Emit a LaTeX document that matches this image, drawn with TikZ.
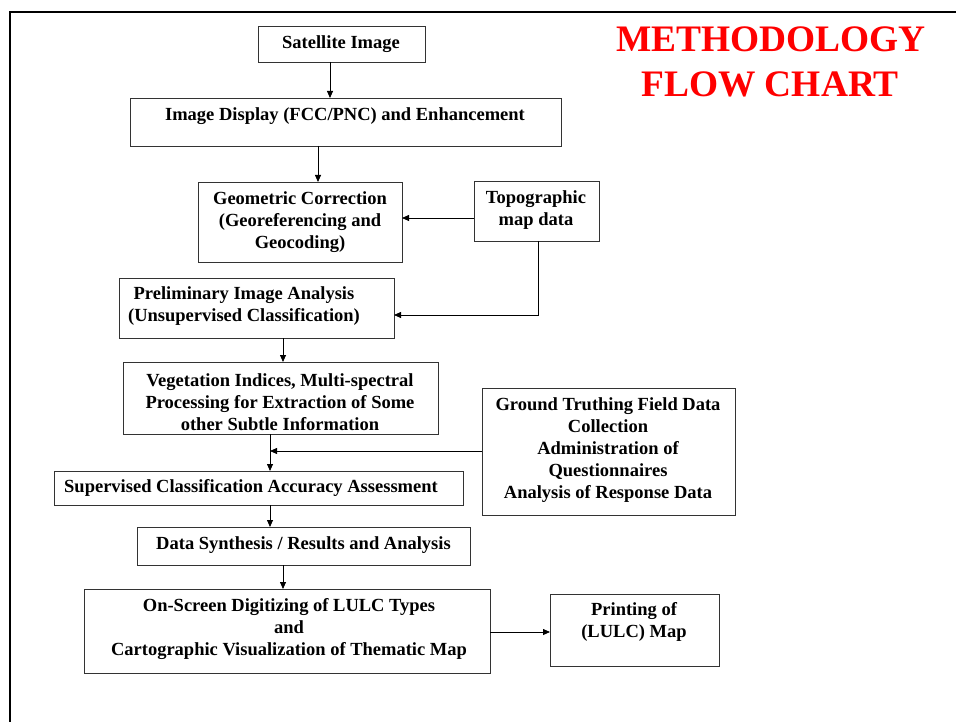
\documentclass[tikz,border=0pt]{standalone}
\usepackage{fontspec}
\setmainfont{Liberation Serif}
\usetikzlibrary{arrows.meta}
\begin{document}
\begin{tikzpicture}[x=1pt,y=-1pt,
  box/.style={draw=black!80,line width=0.9pt,inner sep=0pt,outer sep=0pt},
  txt/.style={align=center,inner sep=0pt,font=\fontsize{18.5}{22}\selectfont\bfseries},
  arr/.style={draw=black,line width=0.8pt,-{Triangle[length=7pt,width=6pt]}},
  ttl/.style={text=red,inner sep=0pt,anchor=base,font=\fontsize{37.4}{44}\selectfont\bfseries}]
\useasboundingbox (0,0) rectangle (956,722);
% frame
\draw[line width=2.6pt] (10,722) -- (10,12) -- (960,12);
% title
\node[ttl] (t1) at (771,52) {METHODOLOGY};
\node[ttl] (t2) at (770,97) {FLOW CHART};
% boxes
\node[box,minimum width=167pt,minimum height=36pt] (sat) at (341.5,44) {};
\node[box,minimum width=431pt,minimum height=48pt] (disp) at (345.5,122) {};
\node[box,minimum width=204pt,minimum height=80pt] (geo) at (300,222) {};
\node[box,minimum width=125pt,minimum height=60pt] (topo) at (536.5,211) {};
\node[box,minimum width=275pt,minimum height=60pt] (prel) at (256.5,308) {};
\node[box,minimum width=315pt,minimum height=72pt] (veg) at (280.5,398) {};
\node[box,minimum width=409pt,minimum height=34pt] (sup) at (258.5,488) {};
\node[box,minimum width=333pt,minimum height=38pt] (syn) at (303.5,546) {};
\node[box,minimum width=406pt,minimum height=84pt] (onscr) at (287,631) {};
\node[box,minimum width=253pt,minimum height=127pt] (gt) at (608.5,451.5) {};
\node[box,minimum width=169pt,minimum height=72pt] (prn) at (634.5,630) {};
% texts
\node[txt] (tsat) at (341,44) {Satellite Image};
\node[txt] (tdisp) at (345,116) {Image Display (FCC/PNC) and Enhancement};
\node[txt] (tgeo) at (300,222) {Geometric Correction\\(Georeferencing and\\Geocoding)};
\node[txt] (ttopo) at (536,210) {Topographic\\map data};
\node[txt] (tprel) at (244,306) {Preliminary Image Analysis\\(Unsupervised Classification)};
\node[txt] (tveg) at (280,402) {Vegetation Indices, Multi-spectral\\Processing for Extraction of Some\\other Subtle Information};
\node[txt] (tsup) at (251,488) {Supervised Classification Accuracy Assessment};
\node[txt] (tsyn) at (303.5,545) {Data Synthesis / Results and Analysis};
\node[txt] (tonscr) at (289,629) {On-Screen Digitizing of LULC Types\\and\\Cartographic Visualization of Thematic Map};
\node[txt] (tgt) at (608,450) {Ground Truthing Field Data\\Collection\\Administration of\\Questionnaires\\Analysis of Response Data};
\node[txt] (tprn) at (634,622) {Printing of\\(LULC) Map};
% helper coordinates
\coordinate (xa) at (330,0);
\coordinate (xb) at (318,0);
\coordinate (xc) at (538,0);
\coordinate (xd) at (283,0);
\coordinate (xe) at (270,0);
\coordinate (ya) at (0,218);
\coordinate (yb) at (0,315);
\coordinate (yc) at (0,632);
\coordinate (mrg) at (270,451);
% connectors
\draw[arr] (sat.south -| xa) -- (disp.north -| xa);
\draw[arr] (disp.south -| xb) -- (geo.north -| xb);
\draw[arr] (topo.west |- ya) -- (geo.east |- ya);
\draw[arr] (topo.south -| xc) |- (prel.east |- yb);
\draw[arr] (prel.south -| xd) -- (veg.north -| xd);
\draw[arr] (veg.south -| xe) -- (sup.north -| xe);
\draw[arr] (gt.west |- mrg) -- (mrg);
\draw[arr] (sup.south -| xe) -- (syn.north -| xe);
\draw[arr] (syn.south -| xd) -- (onscr.north -| xd);
\draw[arr] (onscr.east |- yc) -- (prn.west |- yc);
\end{tikzpicture}
\end{document}
